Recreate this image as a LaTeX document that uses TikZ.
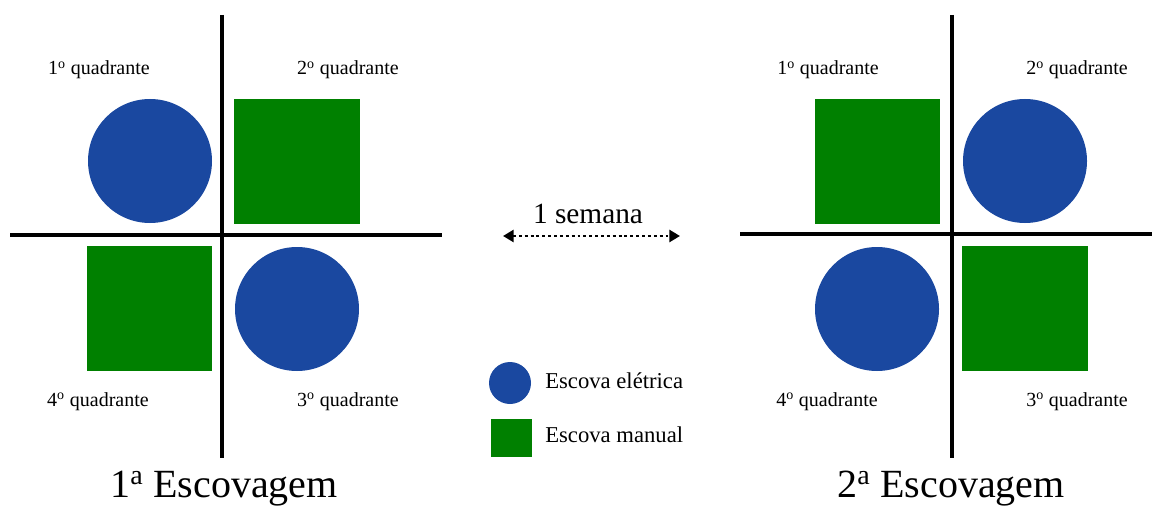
\documentclass[tikz,border=0pt]{standalone}
\usepackage{fontspec}
\setmainfont{Liberation Serif}
\usetikzlibrary{arrows.meta}
\definecolor{eblue}{RGB}{26,72,160}
\definecolor{mgreen}{RGB}{0,128,0}
\begin{document}
\begin{tikzpicture}[x=0.75pt,y=-0.75pt,
  circ/.style={circle,fill=eblue,inner sep=0pt,minimum size=93pt},
  sq/.style={rectangle,fill=mgreen,inner sep=0pt,minimum width=94pt,minimum height=94pt},
  axisline/.style={line width=2.3pt},
  qlabel/.style={font=\fontsize{15}{18}\selectfont,anchor=base,inner sep=0pt},
  titlelabel/.style={font=\fontsize{30}{36}\selectfont,anchor=base,inner sep=0pt},
  leglabel/.style={font=\fontsize{17}{20}\selectfont,anchor=base west,inner sep=0pt},
  legcirc/.style={circle,fill=eblue,inner sep=0pt,minimum size=31.5pt},
  legsq/.style={rectangle,fill=mgreen,inner sep=0pt,minimum width=31pt,minimum height=29pt},
  weekarrow/.style={line width=2.2pt,dash pattern=on 2.2pt off 2.2pt,
    {Triangle[length=8pt,width=9pt]}-{Triangle[length=8pt,width=9pt]}}]
\useasboundingbox (0,0) rectangle (1159,506);
% ---- left diagram
\coordinate (lvt) at (222,15);
\coordinate (lvb) at (222,458);
\coordinate (lhl) at (10,235);
\coordinate (lhr) at (442,235);
\draw[axisline] (lvt) -- (lvb);
\draw[axisline] (lhl) -- (lhr);
\node[circ] (l1) at (150,161) {};
\node[sq] (l2) at (297,161.5) {};
\node[sq] (l4) at (149.5,308.5) {};
\node[circ] (l3) at (297,309) {};
\node[qlabel] (lq1) at (99,75) {1\textsuperscript{o} quadrante};
\node[qlabel] (lq2) at (348,75) {2\textsuperscript{o} quadrante};
\node[qlabel] (lq4) at (98,406) {4\textsuperscript{o} quadrante};
\node[qlabel] (lq3) at (348,406) {3\textsuperscript{o} quadrante};
\node[titlelabel] (lt) at (224,497) {1\textsuperscript{a} Escovagem};
% ---- right diagram
\coordinate (rvt) at (952,15);
\coordinate (rvb) at (952,458);
\coordinate (rhl) at (740,234);
\coordinate (rhr) at (1152,234);
\draw[axisline] (rvt) -- (rvb);
\draw[axisline] (rhl) -- (rhr);
\node[sq] (r1) at (877.5,161.5) {};
\node[circ] (r2) at (1025,161) {};
\node[circ] (r4) at (877,309) {};
\node[sq] (r3) at (1025,308.5) {};
\node[qlabel] (rq1) at (828,75) {1\textsuperscript{o} quadrante};
\node[qlabel] (rq2) at (1077,75) {2\textsuperscript{o} quadrante};
\node[qlabel] (rq4) at (827,406) {4\textsuperscript{o} quadrante};
\node[qlabel] (rq3) at (1077,406) {3\textsuperscript{o} quadrante};
\node[titlelabel] (rt) at (951,497) {2\textsuperscript{a} Escovagem};
% ---- middle
\node[font=\fontsize{22}{26}\selectfont,anchor=base,inner sep=0pt] (sem) at (588,223) {1 semana};
\coordinate (aL) at (503,236);
\coordinate (aR) at (680,236);
\draw[weekarrow] (aL) -- (aR);
% ---- legend
\node[legcirc] (lc) at (510,383) {};
\node[legsq] (ls) at (511.5,438) {};
\node[leglabel] (lct) at (545,388) {Escova elétrica};
\node[leglabel] (lst) at (545,442) {Escova manual};
\end{tikzpicture}
\end{document}
